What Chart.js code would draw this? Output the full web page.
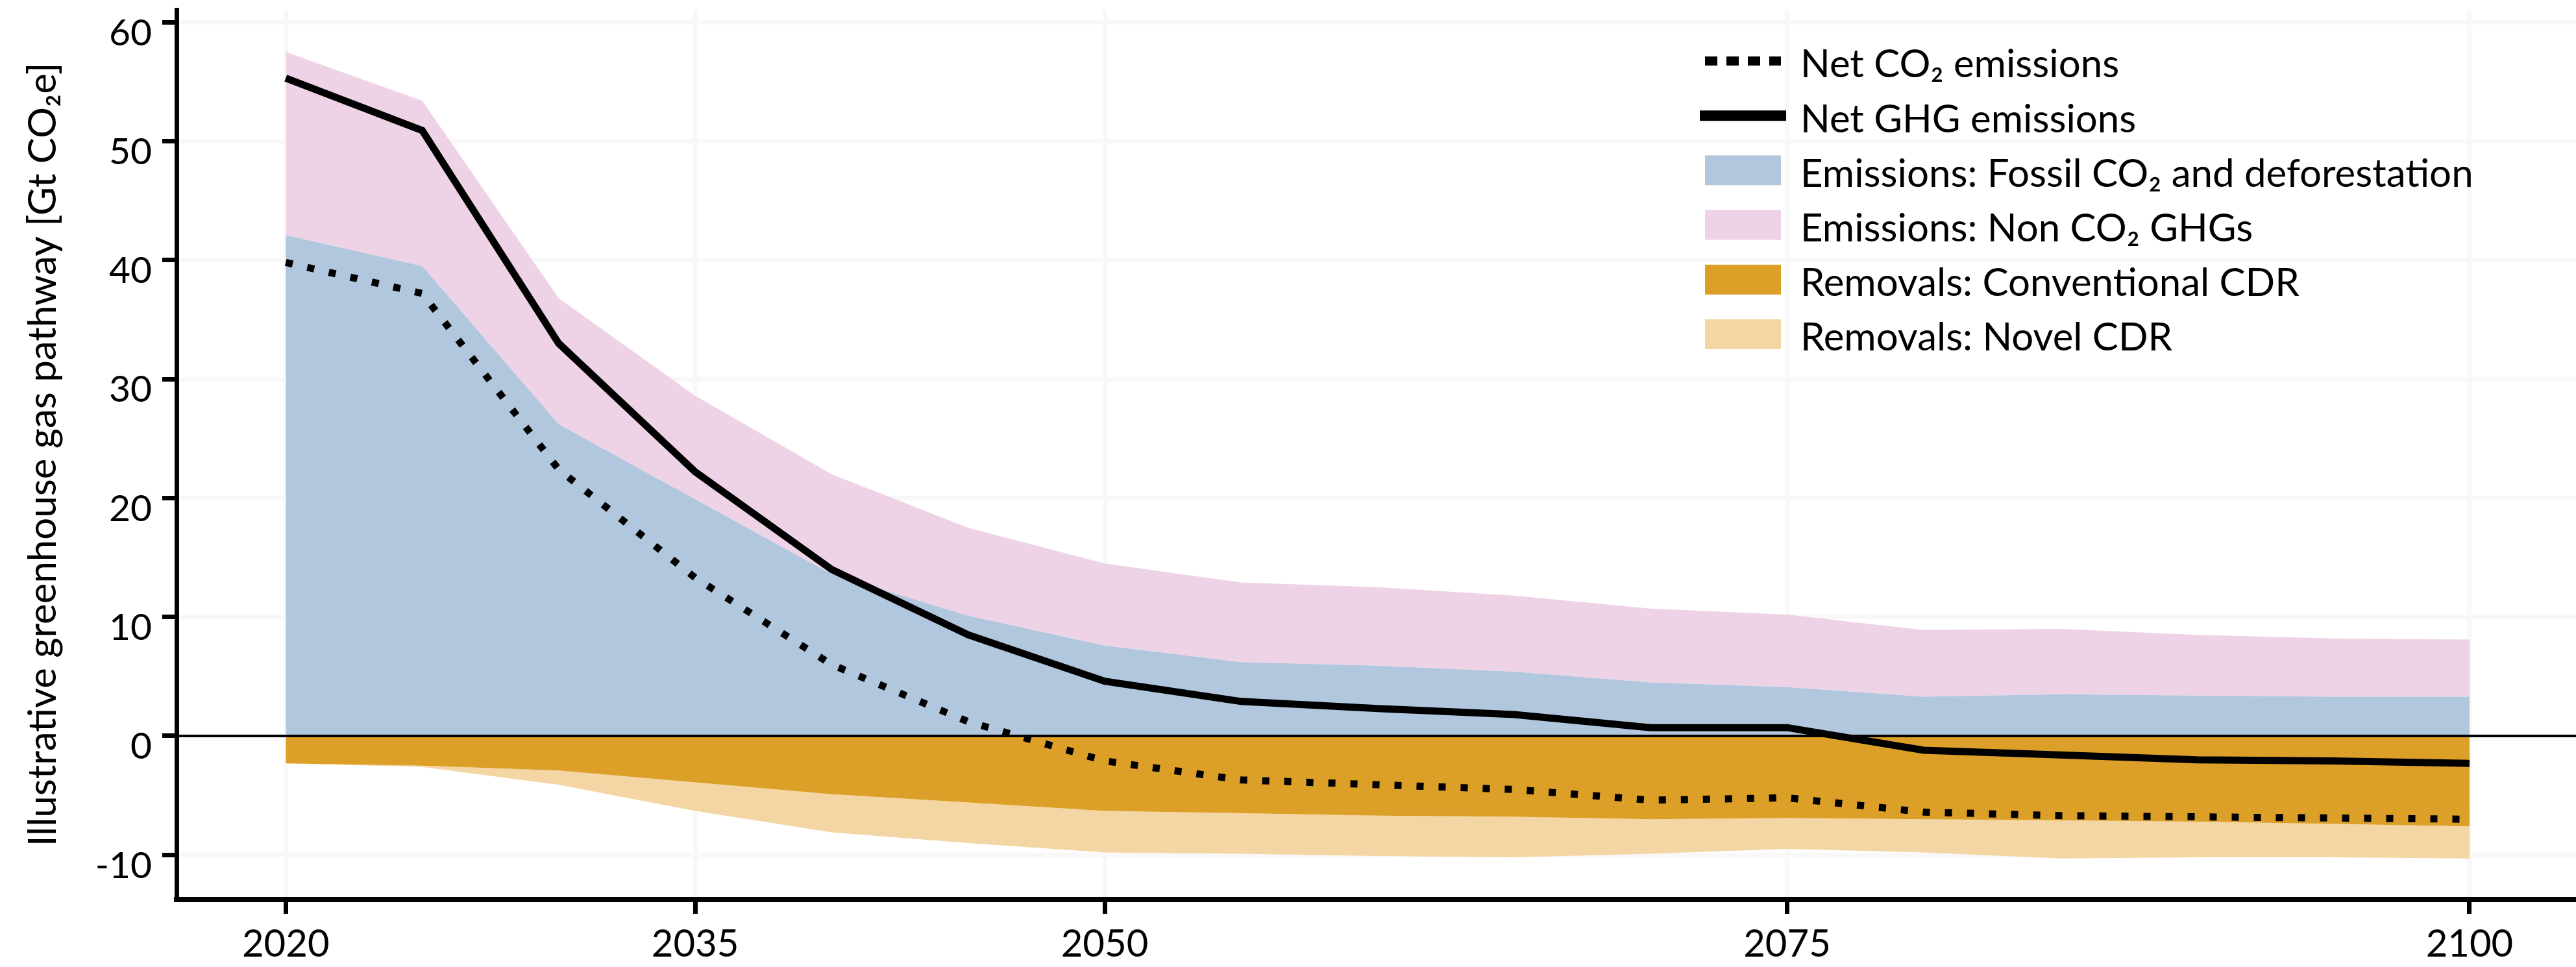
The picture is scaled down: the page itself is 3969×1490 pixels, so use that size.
<!DOCTYPE html>
<html>
<head>
<meta charset="utf-8">
<script src="https://cdn.jsdelivr.net/npm/chart.js@4.4.1/dist/chart.umd.min.js"></script>
<style>
  html, body { margin: 0; padding: 0; background: #fff; }
  #wrap { width: 3969px; height: 1490px; }
</style>
</head>
<body>
<div id="wrap"><canvas id="chart" width="3969" height="1490"></canvas></div>
<script>
// pathway values, every 5 years (Gt CO2e)
const years = [2020, 2025, 2030, 2035, 2040, 2045, 2050, 2055, 2060, 2065, 2070, 2075, 2080, 2085, 2090, 2095, 2100]
const fossilCO2 = [42.1, 39.5, 26.2, 19.9, 13.6, 10.1, 7.6, 6.2, 5.9, 5.4, 4.5, 4.1, 3.3, 3.5, 3.4, 3.3, 3.3]
const nonCO2 = [15.4, 13.9, 10.6, 8.7, 8.4, 7.4, 6.9, 6.7, 6.6, 6.4, 6.2, 6.1, 5.6, 5.5, 5.1, 4.9, 4.8]
// removals as positive magnitudes
const conventionalCDR = [2.3, 2.5, 2.9, 3.9, 4.9, 5.6, 6.3, 6.5, 6.7, 6.8, 7.0, 6.9, 7.0, 7.1, 7.2, 7.4, 7.6]
const novelCDR = [0.0, 0.1, 1.2, 2.4, 3.2, 3.4, 3.5, 3.4, 3.4, 3.4, 2.9, 2.6, 2.8, 3.2, 3.0, 2.8, 2.7]
const netCO2 = [39.8, 37.2, 22.4, 13.3, 6.0, 1.2, -2.1, -3.7, -4.1, -4.5, -5.4, -5.2, -6.4, -6.7, -6.8, -6.9, -7.0]
const netGHG = [55.3, 50.9, 33.0, 22.2, 14.0, 8.5, 4.6, 2.9, 2.3, 1.8, 0.7, 0.7, -1.2, -1.6, -2.0, -2.1, -2.3]

const xTicks = [2020, 2035, 2050, 2075, 2100]
const yTicks = [-10, 0, 10, 20, 30, 40, 50, 60]

const seriesNames = [
  'Net CO\u2082 emissions',
  'Net GHG emissions',
  'Emissions: Fossil CO\u2082 and deforestation',
  'Emissions: Non CO\u2082 GHGs',
  'Removals: Conventional CDR',
  'Removals: Novel CDR'
]
const yTitle = 'Illustrative greenhouse gas pathway [Gt CO\u2082e]'

const FONT = 'Lato'

function pts(vals) {
  return years.map((yr, i) => ({ x: yr, y: vals[i] }))
}

// edges of the stacked bands
const nonCO2Top = fossilCO2.map((v, i) => v + nonCO2[i])
const convBottom = conventionalCDR.map(v => -v)
const novelBottom = conventionalCDR.map((v, i) => -(v + novelCDR[i]))

function area(label, data, color, fill) {
  return {
    label: label, data: pts(data), backgroundColor: color, borderColor: color,
    borderWidth: 0, pointRadius: 0, fill: fill, tension: 0, kind: 'area'
  }
}

// zero line sits above the bands, below the net lines
const zeroLine = {
  id: 'zeroLine',
  beforeDatasetsDraw(chart) {
    const { ctx, chartArea, scales } = chart
    const py = scales.y.getPixelForValue(0)
    ctx.save()
    ctx.strokeStyle = '#000'
    ctx.lineWidth = 4
    ctx.beginPath()
    ctx.moveTo(chartArea.left, py)
    ctx.lineTo(chartArea.right, py)
    ctx.stroke()
    ctx.restore()
  }
}

// legend drawn inside the plot, top right
const boxLegend = {
  id: 'boxLegend',
  afterDraw(chart) {
    const ctx = chart.ctx
    const x0 = 2627, w = 117, textX = 2774
    const rowTop = 94, rowGap = 84.2
    ctx.save()
    chart.data.datasets.forEach((ds, i) => {
      const cy = rowTop + i * rowGap
      if (ds.kind === 'area') {
        ctx.fillStyle = ds.backgroundColor
        ctx.fillRect(x0, cy - 23, w, 46)
      } else if (ds.borderDash && ds.borderDash.length) {
        ctx.strokeStyle = '#000'
        ctx.lineWidth = 14
        ctx.setLineDash([19, 14])
        ctx.beginPath()
        ctx.moveTo(x0, cy)
        ctx.lineTo(x0 + w, cy)
        ctx.stroke()
        ctx.setLineDash([])
      } else {
        ctx.strokeStyle = '#000'
        ctx.lineWidth = 16
        ctx.beginPath()
        ctx.moveTo(x0 - 8, cy)
        ctx.lineTo(x0 + w + 8, cy)
        ctx.stroke()
      }
      ctx.fillStyle = '#000'
      ctx.font = '60px ' + FONT
      ctx.textBaseline = 'middle'
      ctx.textAlign = 'left'
      ctx.fillText(ds.label, textX, cy + 6)
    })
    ctx.restore()
  }
}

function draw() {
  new Chart(document.getElementById('chart'), {
    type: 'line',
    data: {
      datasets: [
        {
          label: seriesNames[0], data: pts(netCO2), borderColor: '#000', borderWidth: 11,
          borderDash: [11, 23], borderCapStyle: 'butt', pointRadius: 0, fill: false, tension: 0
        },
        {
          label: seriesNames[1], data: pts(netGHG), borderColor: '#000', borderWidth: 11,
          pointRadius: 0, fill: false, tension: 0
        },
        area(seriesNames[2], fossilCO2, '#b1c7dd', 'origin'),
        area(seriesNames[3], nonCO2Top, '#eed3e6', 2),
        area(seriesNames[4], convBottom, '#dca028', 'origin'),
        area(seriesNames[5], novelBottom, '#f4d6a4', 4)
      ]
    },
    options: {
      responsive: false,
      animation: false,
      devicePixelRatio: 1,
      layout: { padding: { top: 15, right: 0, bottom: 0, left: 0 } },
      plugins: {
        legend: { display: false },
        tooltip: { enabled: false },
        filler: { drawTime: 'beforeDatasetsDraw' }
      },
      scales: {
        x: {
          type: 'linear',
          min: 2016,
          max: 2103.9,
          afterBuildTicks: s => { s.ticks = xTicks.map(v => ({ value: v })) },
          afterFit: s => { s.height = 104; s.paddingLeft = 0; s.paddingRight = 0 },
          grid: { color: '#f8f8f8', lineWidth: 7, tickColor: '#000', tickWidth: 7, tickLength: 22 },
          border: { color: '#000', width: 8 },
          ticks: {
            font: { family: FONT, size: 58 }, color: '#000', padding: 12,
            maxRotation: 0, autoSkip: false, callback: v => String(v)
          }
        },
        y: {
          min: -13.75,
          max: 61.05,
          afterBuildTicks: s => { s.ticks = yTicks.map(v => ({ value: v })) },
          afterFit: s => { s.width = 272; s.paddingTop = 0; s.paddingBottom = 0 },
          title: {
            display: true, text: yTitle, color: '#000',
            font: { family: FONT, size: 60, lineHeight: 1 }, padding: { top: 37, bottom: 0 }
          },
          grid: { color: '#f8f8f8', lineWidth: 7, tickColor: '#000', tickWidth: 7, tickLength: 22 },
          border: { color: '#000', width: 7 },
          ticks: {
            font: { family: FONT, size: 57 }, color: '#000', padding: 16, labelOffset: 17,
            autoSkip: false, callback: v => String(v)
          }
        }
      }
    },
    plugins: [zeroLine, boxLegend]
  })
}

document.fonts.load('56px ' + FONT).then(draw, draw)
</script>
</body>
</html>
